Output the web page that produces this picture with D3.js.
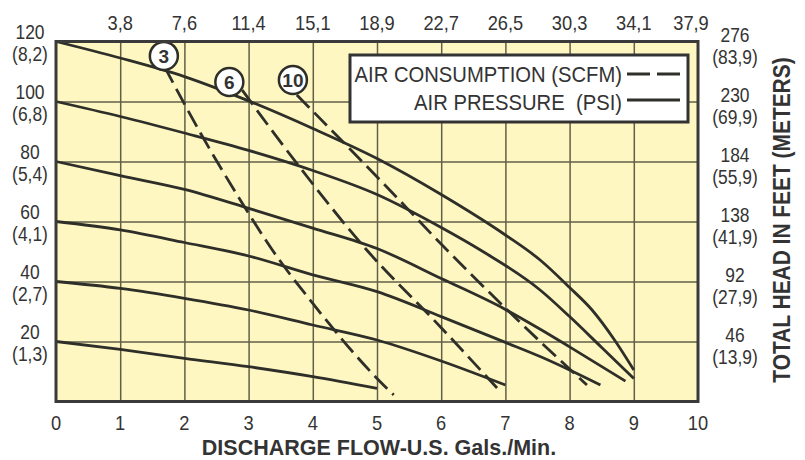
<!DOCTYPE html>
<html>
<head>
<meta charset="utf-8">
<script src="https://cdn.jsdelivr.net/npm/d3@7"></script>
<style>
  body { margin: 0; background: #fff; }
  svg text { font-family: "Liberation Sans", Arial, sans-serif; fill: #333; }
  .bold { font-weight: bold; }
</style>
</head>
<body>
<svg width="805" height="460"></svg>
<script>
// flow ticks (US gpm) along the bottom, litres/min along the top
var flowTicks = [0, 1, 2, 3, 4, 5, 6, 7, 8, 9, 10];
var litreLabels = ["3,8", "7,6", "11,4", "15,1", "18,9", "22,7", "26,5", "30,3", "34,1", "37,9"];

// head ticks: psi on the left with bar, feet on the right with metres
var psiTicks = [20, 40, 60, 80, 100, 120];
var barLabels = ["(1,3)", "(2,7)", "(4,1)", "(5,4)", "(6,8)", "(8,2)"];
var feetLabels = ["46", "92", "138", "184", "230", "276"];
var meterLabels = ["(13,9)", "(27,9)", "(41,9)", "(55,9)", "(69,9)", "(83,9)"];

// air pressure curves [flow, psi head]
var psi120 = [[0,120],[1,114.5],[2,108.3],[3,100.2],[4,91],[5,81],[6,69],[7,55.5],[7.55,47],[8,38],[8.35,30.5],[8.7,20.5],[9,10.5]];
var psi100 = [[0,100],[1,95],[2,89.5],[3,83.7],[4,77],[5,69],[6,58],[6.61,50.5],[7.55,37],[8,28.3],[8.5,18],[9,7.7]];
var psi80  = [[0,80],[1,75.3],[2,70.7],[3,64.4],[4,57.8],[5,51],[6,41],[7,30.7],[7.55,24],[8,18.2],[8.87,6.8]];
var psi60  = [[0,60],[1,57.2],[2,53],[3,48.5],[4,42.2],[5,36.6],[6,28.3],[7,19.7],[7.55,14.9],[8,10.5],[8.48,5.5]];
var psi40  = [[0,40],[1,37.7],[2,34.4],[3,30.5],[4,25.5],[5,20.5],[6,13.5],[7,5.5]];
var psi20  = [[0,20],[1,17.4],[2,14.4],[3,11.6],[4,8.3],[5,4.4]];

// air consumption curves [flow, psi head]
var scfm3  = [[1.69,111.6],[2.25,89.5],[2.87,67.2],[3.37,50.5],[4,32.7],[5.05,6.6],[5.26,2.2]];
var scfm6  = [[2.9,103.8],[3.8,78],[4.84,50.5],[6,24.6],[6.87,4.5]];
var scfm10 = [[3.75,102.2],[5.05,73.8],[6.09,50.5],[7.03,30.5],[7.55,19.8],[8.27,5.5]];

var scfmNames = ["3", "6", "10"];
var scfmBadges = [[1.68,115.2],[2.7,106.5],[3.69,107.2]];

var svg = d3.select("svg");

var x = d3.scaleLinear().domain([0, 10]).range([56, 698]);
var y = d3.scaleLinear().domain([0, 120]).range([401.5, 41.5]);

var ink = "#2f2f2a";
var squeeze = 0.87;   // the chart's type is a condensed grotesque

// places a (horizontally condensed) text at px, py
function label(g, px, py, size, sx) {
  return g.append("text")
    .attr("transform", "translate(" + px + "," + py + ") scale(" + sx + ",1)")
    .attr("text-anchor", "middle")
    .style("font-size", size + "px");
}

// yellow plot area
svg.append("rect")
  .attr("x", x(0)).attr("y", y(120))
  .attr("width", x(10) - x(0)).attr("height", y(0) - y(120))
  .attr("fill", "#fff7c2");

// grid
svg.append("g")
  .attr("transform", "translate(0," + y(0) + ")")
  .call(d3.axisBottom(x).tickValues(flowTicks.slice(1, -1)).tickSize(-(y(0) - y(120))).tickFormat(""))
  .call(function(g) { g.select(".domain").remove(); })
  .selectAll("line").attr("stroke", "#625f48").attr("stroke-width", 1.5);

svg.append("g")
  .attr("transform", "translate(" + x(0) + ",0)")
  .call(d3.axisLeft(y).tickValues(psiTicks.slice(0, -1)).tickSize(-(x(10) - x(0))).tickFormat(""))
  .call(function(g) { g.select(".domain").remove(); })
  .selectAll("line").attr("stroke", "#625f48").attr("stroke-width", 1.5);

// legend box
var legend = svg.append("g");
legend.append("rect")
  .attr("x", 350).attr("y", 55).attr("width", 338).attr("height", 67)
  .attr("fill", "#fff").attr("stroke", "#333").attr("stroke-width", 3);
label(legend, 622, 82, 22, 0.92).attr("text-anchor", "end").text("AIR CONSUMPTION (SCFM)");
label(legend, 622, 110, 22, 0.92).attr("text-anchor", "end").style("white-space", "pre").text("AIR PRESSURE  (PSI)");
legend.append("line").attr("x1", 627).attr("x2", 680).attr("y1", 74).attr("y2", 74)
  .attr("stroke", ink).attr("stroke-width", 2.8).attr("stroke-dasharray", "23,7");
legend.append("line").attr("x1", 627).attr("x2", 680).attr("y1", 100).attr("y2", 100)
  .attr("stroke", ink).attr("stroke-width", 2.8);

var line = d3.line()
  .x(function(d) { return x(d[0]); })
  .y(function(d) { return y(d[1]); })
  .curve(d3.curveMonotoneX);

svg.append("g").selectAll("path")
  .data([psi120, psi100, psi80, psi60, psi40, psi20])
  .enter().append("path")
  .attr("d", line)
  .attr("fill", "none").attr("stroke", ink).attr("stroke-width", 2.8);

svg.append("g").selectAll("path")
  .data([scfm3, scfm6, scfm10])
  .enter().append("path")
  .attr("d", line)
  .attr("fill", "none").attr("stroke", ink).attr("stroke-width", 2.8)
  .attr("stroke-dasharray", "18,7");

// circled scfm numbers
var badge = svg.append("g").selectAll("g")
  .data(scfmNames)
  .enter().append("g")
  .attr("transform", function(d, i) { return "translate(" + x(scfmBadges[i][0]) + "," + y(scfmBadges[i][1]) + ")"; });
badge.append("circle").attr("r", 14).attr("fill", "#fff").attr("stroke", ink).attr("stroke-width", 2.5);
badge.append("text").attr("class", "bold").attr("text-anchor", "middle").attr("dy", "0.36em")
  .style("font-size", "19px").text(function(d) { return d; });

// plot border
svg.append("rect")
  .attr("x", x(0)).attr("y", y(120))
  .attr("width", x(10) - x(0)).attr("height", y(0) - y(120))
  .attr("fill", "none").attr("stroke", "#3a3a3a").attr("stroke-width", 3);

// bottom tick labels
var bottomG = svg.append("g");
flowTicks.forEach(function(d) {
  label(bottomG, x(d), 430, 21, squeeze).text(d);
});

// top tick labels (l/min)
var topG = svg.append("g");
litreLabels.forEach(function(d, i) {
  label(topG, x(i + 1) - (i == 9 ? 7 : 0), 30, 21, squeeze).text(d);
});

// left labels: psi over bar
var leftG = svg.append("g");
psiTicks.forEach(function(d, i) {
  var t = label(leftG, 30, y(d) - 2.5, 20, squeeze);
  t.append("tspan").attr("x", 0).text(d);
  t.append("tspan").attr("x", 0).attr("dy", 22.5).text(barLabels[i]);
});

// right labels: feet over metres
var rightG = svg.append("g");
psiTicks.forEach(function(d, i) {
  var t = label(rightG, 735, y(d) + 0.5, 20, squeeze);
  t.append("tspan").attr("x", 0).text(feetLabels[i]);
  t.append("tspan").attr("x", 0).attr("dy", 22.5).text(meterLabels[i]);
});

// axis titles
label(svg, 379, 455, 21.5, 1).attr("class", "bold").text("DISCHARGE FLOW-U.S. Gals./Min.");

svg.append("text")
  .attr("class", "bold")
  .attr("transform", "translate(790,220) rotate(-90) scale(0.91,1)")
  .attr("text-anchor", "middle")
  .style("font-size", "23px")
  .text("TOTAL HEAD IN FEET (METERS)");
</script>
</body>
</html>
